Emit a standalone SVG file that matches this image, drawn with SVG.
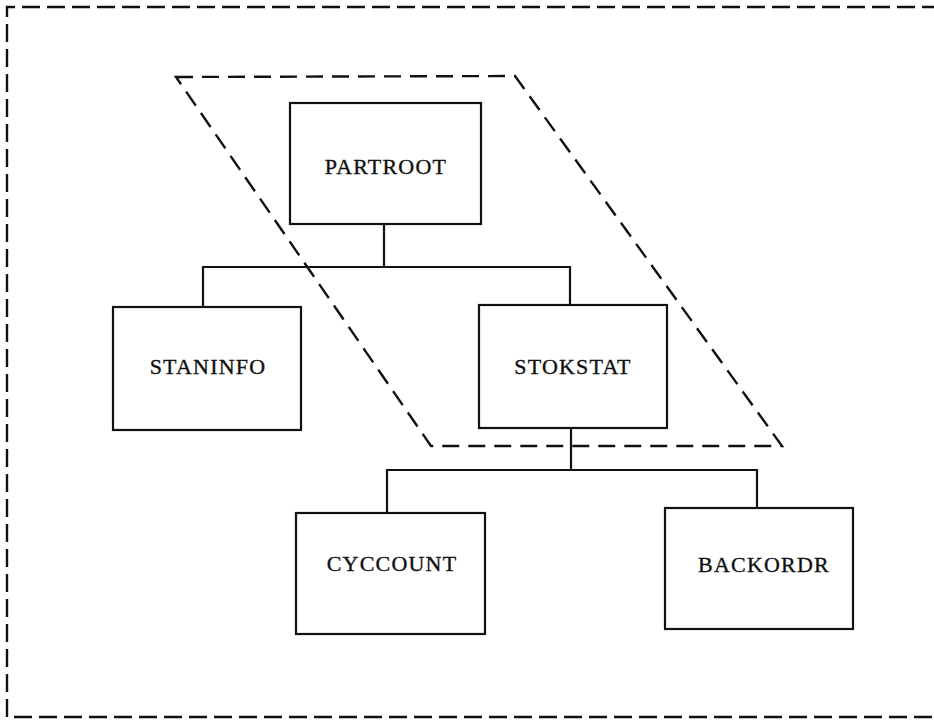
<svg xmlns="http://www.w3.org/2000/svg" width="934" height="726" viewBox="0 0 934 726">
  <style>
    .box { fill: #fff; stroke: #111; stroke-width: 2.2; }
    .link { fill: none; stroke: #111; stroke-width: 2.2; }
    .frame { fill: none; stroke: #111; stroke-width: 2.4; stroke-dasharray: 18 7; }
    .scope { fill: none; stroke: #111; stroke-width: 2.4; stroke-dasharray: 17 9; }
    .label { font-family: "Liberation Serif", "Times New Roman", serif; font-size: 22px; letter-spacing: 1.2px; fill: #111; stroke: #111; stroke-width: 0.35; text-anchor: middle; }
  </style>
  <rect width="934" height="726" fill="#fff"/>

  <!-- outer boundary, open to the right -->
  <path class="frame" d="M940 7 L7 7 L7 717 L940 717"/>

  <!-- parallelogram enclosing the selected segments -->
  <path class="scope" d="M176 77 L515 76 L782 446 L431 446 Z"/>

  <g id="connectors">
    <path class="link" d="M384 224 V267 M203 307 V267 H570 V305"/>
    <path class="link" d="M571 428 V470 M387 513 V470 H757 V508"/>
  </g>

  <g id="PARTROOT">
    <rect class="box" x="290" y="103" width="191" height="121"/>
    <text class="label" x="386" y="174">PARTROOT</text>
  </g>
  <g id="STANINFO">
    <rect class="box" x="113" y="307" width="188" height="123"/>
    <text class="label" x="208" y="374">STANINFO</text>
  </g>
  <g id="STOKSTAT">
    <rect class="box" x="479" y="305" width="188" height="123"/>
    <text class="label" x="573" y="374">STOKSTAT</text>
  </g>
  <g id="CYCCOUNT">
    <rect class="box" x="296" y="513" width="189" height="121"/>
    <text class="label" x="392" y="571">CYCCOUNT</text>
  </g>
  <g id="BACKORDR">
    <rect class="box" x="665" y="508" width="188" height="121"/>
    <text class="label" x="764" y="572">BACKORDR</text>
  </g>
</svg>
